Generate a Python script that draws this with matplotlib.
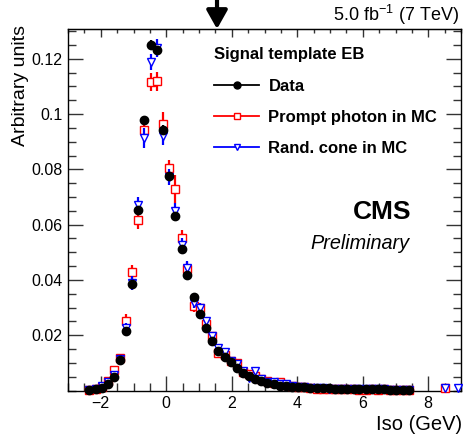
import matplotlib
matplotlib.use("Agg")
import matplotlib.pyplot as plt
from matplotlib.lines import Line2D
from matplotlib.ticker import MultipleLocator

plt.rcParams['font.family'] = ['Liberation Sans', 'DejaVu Sans']
plt.rcParams['mathtext.fontset'] = 'custom'
plt.rcParams['mathtext.rm'] = 'Liberation Sans'

# bin centres (GeV)
bin_x = [-2.35, -2.16, -1.97, -1.79, -1.60, -1.41, -1.23, -1.04, -0.86, -0.67,
         -0.48, -0.29, -0.09, 0.08, 0.28, 0.47, 0.64, 0.84, 1.02, 1.21,
         1.40, 1.59, 1.78, 1.97, 2.15, 2.34, 2.53, 2.72, 2.90, 3.09,
         3.28, 3.47, 3.66, 3.84, 4.03, 4.22, 4.40, 4.59, 4.78, 4.97,
         5.15, 5.34, 5.53, 5.72, 5.90, 6.09, 6.28, 6.47, 6.65, 6.84,
         7.03, 7.22, 7.41]

data_y = [0.0002, 0.0004, 0.0010, 0.0025, 0.0050, 0.0110, 0.0215, 0.0387, 0.0652, 0.0978,
          0.1251, 0.1231, 0.0944, 0.0775, 0.0633, 0.0512, 0.0418, 0.0339, 0.0277, 0.0225,
          0.0180, 0.0144, 0.0122, 0.0102, 0.0082, 0.0064, 0.0052, 0.0042, 0.0034, 0.0028,
          0.0022, 0.0018, 0.0016, 0.0013, 0.0012, 0.0011, 0.0010, 0.0009, 0.0008, 0.0008,
          0.0007, 0.0006, 0.0006, 0.0005, 0.0005, 0.0005, 0.0004, 0.0004, 0.0004, 0.0003,
          0.0003, 0.0003, 0.0003]
data_err = [0.0001, 0.0001, 0.0002, 0.0003, 0.0004, 0.0006, 0.0008, 0.0010, 0.0013, 0.0015,
            0.0017, 0.0017, 0.0015, 0.0013, 0.0012, 0.0011, 0.0010, 0.0009, 0.0008, 0.0007,
            0.0006, 0.0006, 0.0005, 0.0005, 0.0004, 0.0004, 0.0003, 0.0003, 0.0003, 0.0002,
            0.0002, 0.0002, 0.0002, 0.0002, 0.0002, 0.0001, 0.0001, 0.0001, 0.0001, 0.0001,
            0.0001, 0.0001, 0.0001, 0.0001, 0.0001, 0.0001, 0.0001, 0.0001, 0.0001, 0.0001,
            0.0001, 0.0001, 0.0001]

prompt_x = bin_x + [8.52]
prompt_y = [0.0003, 0.0005, 0.0012, 0.0036, 0.0073, 0.0118, 0.0253, 0.0428, 0.0618, 0.0944,
            0.1117, 0.1119, 0.0966, 0.0805, 0.0730, 0.0552, 0.0440, 0.0305, 0.0299, 0.0242,
            0.0196, 0.0134, 0.0130, 0.0106, 0.0098, 0.0066, 0.0058, 0.0052, 0.0040, 0.0036,
            0.0028, 0.0030, 0.0020, 0.0015, 0.0013, 0.0014, 0.0010, 0.0006, 0.0004, 0.0006,
            0.0007, 0.0005, 0.0006, 0.0004, 0.0003, 0.0002, 0.0004, 0.0003, 0.0004, 0.0002,
            0.0003, 0.0002, 0.0003, 0.0010]
prompt_err = [0.0002, 0.0003, 0.0005, 0.0008, 0.0012, 0.0015, 0.0022, 0.0027, 0.0032, 0.0040,
              0.0033, 0.0035, 0.0040, 0.0030, 0.0050, 0.0030, 0.0026, 0.0020, 0.0018, 0.0016,
              0.0014, 0.0012, 0.0011, 0.0010, 0.0009, 0.0008, 0.0007, 0.0006, 0.0006, 0.0005,
              0.0005, 0.0005, 0.0004, 0.0004, 0.0004, 0.0004, 0.0003, 0.0003, 0.0003, 0.0003,
              0.0003, 0.0003, 0.0003, 0.0003, 0.0003, 0.0003, 0.0003, 0.0003, 0.0003, 0.0003,
              0.0003, 0.0003, 0.0003, 0.0004]

cone_x = bin_x + [8.52, 8.90]
cone_y = [0.0002, 0.0006, 0.0015, 0.0030, 0.0055, 0.0115, 0.0225, 0.0390, 0.0670, 0.0914,
          0.1189, 0.1240, 0.0922, 0.0772, 0.0651, 0.0528, 0.0445, 0.0318, 0.0300, 0.0250,
          0.0199, 0.0154, 0.0139, 0.0108, 0.0095, 0.0070, 0.0046, 0.0072, 0.0040, 0.0032,
          0.0030, 0.0025, 0.0022, 0.0016, 0.0012, 0.0011, 0.0010, 0.0009, 0.0008, 0.0007,
          0.0007, 0.0006, 0.0006, 0.0005, 0.0006, 0.0005, 0.0004, 0.0005, 0.0004, 0.0003,
          0.0003, 0.0003, 0.0002, 0.0010, 0.0010]
cone_err = [0.0002, 0.0003, 0.0005, 0.0007, 0.0010, 0.0014, 0.0020, 0.0025, 0.0030, 0.0035,
            0.0030, 0.0033, 0.0032, 0.0028, 0.0026, 0.0024, 0.0022, 0.0019, 0.0017, 0.0015,
            0.0013, 0.0012, 0.0011, 0.0010, 0.0009, 0.0008, 0.0007, 0.0007, 0.0006, 0.0005,
            0.0005, 0.0005, 0.0004, 0.0004, 0.0004, 0.0003, 0.0003, 0.0003, 0.0003, 0.0003,
            0.0003, 0.0003, 0.0003, 0.0003, 0.0003, 0.0003, 0.0003, 0.0003, 0.0003, 0.0003,
            0.0003, 0.0003, 0.0003, 0.0004, 0.0004]

labels = ["Data", "Prompt photon in MC", "Rand. cone in MC"]
cut_value = 1.55

W, H = 463, 436
fig = plt.figure(figsize=(W / 100, H / 100), dpi=100)
ax = fig.add_axes([68 / W, 1 - 390.5 / H, (461 - 68) / W, (390.5 - 29) / H])

ax.errorbar(prompt_x, prompt_y, yerr=prompt_err, fmt='s', color='red', mfc='white',
            mec='red', ms=5.6, mew=1.0, elinewidth=1.6, capsize=0, clip_on=False, zorder=3)
ax.errorbar(cone_x, cone_y, yerr=cone_err, fmt='v', color='blue', mfc='white',
            mec='blue', ms=5.6, mew=1.0, elinewidth=1.6, capsize=0, clip_on=False, zorder=4)
ax.errorbar(bin_x, data_y, yerr=data_err, fmt='o', color='black', ms=6.0,
            elinewidth=1.6, capsize=0, clip_on=False, zorder=5)

ax.set_xlim(-3, 9)
ax.set_ylim(0, 0.1308)
ax.set_xticks([-2, 0, 2, 4, 6, 8])
ax.set_yticks([0.02, 0.04, 0.06, 0.08, 0.1, 0.12])
ax.set_yticklabels(['0.02', '0.04', '0.06', '0.08', '0.1', '0.12'])
ax.xaxis.set_minor_locator(MultipleLocator(0.5))
ax.yaxis.set_minor_locator(MultipleLocator(0.005))
ax.tick_params(which='both', direction='in', top=False, right=True, labelsize=11.5,
               width=1.0, color='#333333')
ax.tick_params(which='major', length=11, pad=4)
ax.tick_params(which='minor', length=5.5)
for s in ax.spines.values():
    s.set_linewidth(1.0)

top = ax.secondary_xaxis('top')
top.set_xticks([-2, 0, 2, 4, 6, 8])
top.xaxis.set_minor_locator(MultipleLocator(0.5))
top.tick_params(which='both', direction='in', labeltop=False, width=1.0, color='#333333')
top.tick_params(which='major', length=6)
top.tick_params(which='minor', length=3)

# axis titles placed like ROOT does (right / top aligned)
fig.text(462 / W, 1 - 424 / H, 'Iso (GeV)', ha='right', va='center', fontsize=14.5)
fig.text(21 / W, 1 - 25 / H, 'Arbitrary units', ha='center', va='top', rotation=90,
         fontsize=14)

# cut arrow above the frame
ax.annotate('', xy=(cut_value, 1.0), xycoords=('data', 'axes fraction'),
            xytext=(cut_value, 1.0 + 30 / 361.5), textcoords=('data', 'axes fraction'),
            arrowprops=dict(arrowstyle='-|>,head_width=0.45,head_length=0.8',
                            lw=3, color='black', mutation_scale=14, shrinkA=0, shrinkB=0),
            annotation_clip=False)

fig.text(459 / W, 1 - 15 / H, '5.0 fb$^{-1}$ (7 TeV)', ha='right', va='center', fontsize=13)
fig.text(411 / W, 1 - 212 / H, 'CMS', ha='right', va='center', fontsize=19,
         fontweight='bold')
fig.text(410 / W, 1 - 243 / H, 'Preliminary', ha='right', va='center', fontsize=14.3,
         style='italic')

handles = [
    Line2D([], [], color='black', lw=1.3, marker='o', ms=5, mfc='black', mec='black'),
    Line2D([], [], color='red', lw=1.3, marker='s', ms=5, mfc='white', mec='red'),
    Line2D([], [], color='blue', lw=1.3, marker='v', ms=5, mfc='white', mec='blue'),
]
leg = fig.legend(handles, labels, title='Signal template EB', loc='upper left',
                 bbox_to_anchor=(211 / W, 1 - 44 / H), frameon=False, borderpad=0.2,
                 borderaxespad=0, handlelength=2.7, handletextpad=0.55, labelspacing=0.98,
                 prop={'size': 12, 'weight': 'bold'}, alignment='left')
leg.get_title().set_fontsize(12)
leg.get_title().set_fontweight('bold')

fig.savefig('out.png', dpi=100)
